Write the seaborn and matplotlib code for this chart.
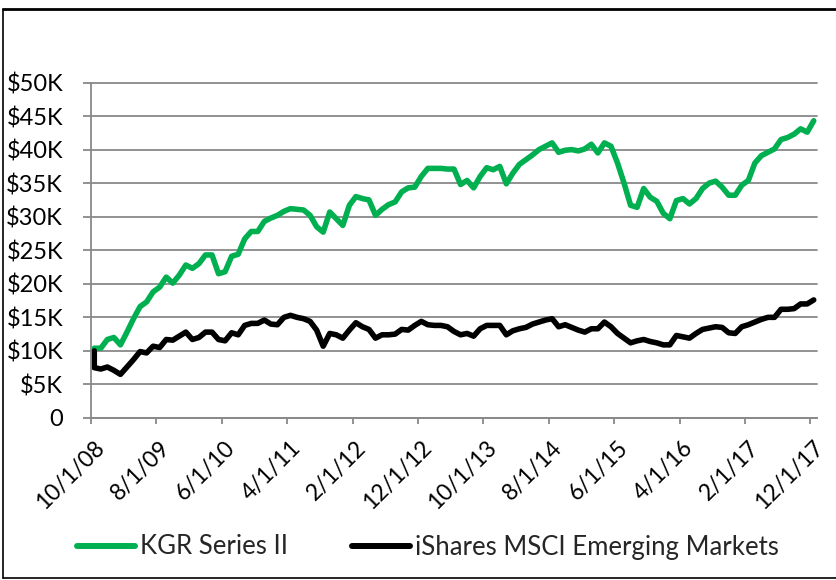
import numpy as np
import pandas as pd
import matplotlib
matplotlib.use("Agg")
import matplotlib.pyplot as plt
import matplotlib.transforms as mtransforms
from matplotlib.lines import Line2D
import seaborn as sns

# ---------------- data (values in $K) ----------------
start_value = 10.0  # both portfolios start at $10K on 10/1/08
months = pd.period_range("2008-10", "2017-12", freq="M")

kgr = [10.4, 10.4, 11.7, 12.0, 10.9, 12.8, 14.8, 16.6, 17.3, 18.8,
       19.5, 21.0, 20.1, 21.3, 22.8, 22.3, 23.0, 24.3, 24.3, 21.5,
       21.8, 24.1, 24.4, 26.7, 27.8, 27.8, 29.3, 29.8, 30.2, 30.8,
       31.2, 31.1, 31.0, 30.2, 28.5, 27.7, 30.7, 29.7, 28.7, 31.7,
       33.0, 32.7, 32.5, 30.2, 31.1, 31.8, 32.2, 33.7, 34.3, 34.4,
       36.0, 37.2, 37.2, 37.2, 37.1, 37.1, 34.8, 35.4, 34.3, 36.0,
       37.3, 37.0, 37.5, 34.9, 36.5, 37.8, 38.5, 39.2, 40.0, 40.5,
       41.0, 39.6, 39.9, 40.0, 39.8, 40.1, 40.8, 39.5, 41.0, 40.5,
       38.0, 35.0, 31.7, 31.4, 34.2, 32.9, 32.3, 30.5, 29.7, 32.4,
       32.7, 31.9, 32.7, 34.2, 35.0, 35.3, 34.4, 33.2, 33.2, 34.7,
       35.4, 38.0, 39.1, 39.6, 40.1, 41.5, 41.8, 42.3, 43.1, 42.6, 44.3]

ishares = [7.5, 7.3, 7.6, 7.1, 6.5, 7.6, 8.7, 9.9, 9.7, 10.7,
           10.5, 11.7, 11.6, 12.2, 12.8, 11.7, 12.0, 12.8, 12.8, 11.7,
           11.5, 12.7, 12.4, 13.8, 14.1, 14.1, 14.6, 14.0, 13.9, 15.0,
           15.3, 15.0, 14.8, 14.4, 13.1, 10.7, 12.6, 12.4, 11.9, 13.1,
           14.2, 13.6, 13.2, 11.9, 12.4, 12.4, 12.5, 13.2, 13.1, 13.8,
           14.4, 13.9, 13.8, 13.8, 13.6, 12.9, 12.4, 12.6, 12.2, 13.3,
           13.8, 13.8, 13.8, 12.4, 13.0, 13.3, 13.5, 14.0, 14.3, 14.6,
           14.8, 13.6, 13.9, 13.5, 13.1, 12.8, 13.3, 13.3, 14.3, 13.6,
           12.6, 11.9, 11.2, 11.5, 11.7, 11.4, 11.2, 10.9, 10.9, 12.3,
           12.1, 11.9, 12.6, 13.2, 13.4, 13.6, 13.5, 12.7, 12.6, 13.6,
           13.9, 14.3, 14.7, 15.0, 15.0, 16.2, 16.2, 16.3, 17.0, 17.0, 17.6]

series_names = ["KGR Series II", "iShares MSCI Emerging Markets"]
series_colors = ["#00B050", "#000000"]

tick_labels = ["10/1/08", "8/1/09", "6/1/10", "4/1/11", "2/1/12", "12/1/12",
               "10/1/13", "8/1/14", "6/1/15", "4/1/16", "2/1/17", "12/1/17"]
tick_step_months = 10
y_ticks = [0, 5, 10, 15, 20, 25, 30, 35, 40, 45, 50]
y_labels = ["0", "$5K", "$10K", "$15K", "$20K", "$25K",
            "$30K", "$35K", "$40K", "$45K", "$50K"]

# ---------------- build long table ----------------
slot = np.arange(len(months)) + 0.5   # centre of each monthly slot
rows = []
for name, vals in zip(series_names, [kgr, ishares]):
    xs = np.concatenate([[slot[0]], slot])
    ys = [start_value] + list(vals)
    for k, (xv, yv) in enumerate(zip(xs, ys)):
        rows.append({"x": xv, "value": yv, "series": name, "order": k})
df = pd.DataFrame(rows)

# ---------------- styling ----------------
sns.set_theme(style="white")
plt.rcParams["font.family"] = ["Lato", "DejaVu Sans"]

W, H = 836, 580
fig = plt.figure(figsize=(W / 100, H / 100), dpi=100)
ax = fig.add_axes([91 / W, 1 - 418 / H, (817 - 91) / W, (418 - 82.5) / H])

grid_col = "#898989"
sns.lineplot(data=df, x="x", y="value", hue="series",
             palette=dict(zip(series_names, series_colors)),
             hue_order=series_names, estimator=None, sort=False,
             linewidth=4.0, legend=False, ax=ax)
for ln in ax.lines:
    ln.set_solid_joinstyle("round")
    ln.set_solid_capstyle("round")
    ln.set_clip_on(False)

ax.set_xlim(0, len(months))
ax.set_ylim(0, 50)
ax.set_xticks(np.arange(len(tick_labels)) * tick_step_months)
ax.set_xticklabels(tick_labels, rotation=45, ha="right", va="top",
                   rotation_mode="anchor", fontsize=16.5, color="black")
ax.set_yticks(y_ticks)
ax.set_yticklabels(y_labels, fontsize=17, color="black")
ax.set_xlabel("")
ax.set_ylabel("")

ax.yaxis.grid(True, color=grid_col, linewidth=1.3)
ax.xaxis.grid(False)
for gl in ax.yaxis.get_gridlines():
    gl.set_clip_on(False)
ax.set_axisbelow(True)

for side in ["top", "right"]:
    ax.spines[side].set_visible(False)
for side in ["left", "bottom"]:
    ax.spines[side].set_color(grid_col)
    ax.spines[side].set_linewidth(1.3)

ax.tick_params(axis="y", which="major", length=6, width=1.3, color=grid_col,
               pad=14, left=True)
ax.tick_params(axis="x", which="major", length=4.5, width=1.3, color=grid_col,
               pad=9, bottom=True)

offset = mtransforms.ScaledTranslation(2 / 72, 0, fig.dpi_scale_trans)
for lbl in ax.get_xticklabels():
    lbl.set_transform(lbl.get_transform() + offset)

# legend
handles = [Line2D([], [], color=c, linewidth=4.3, solid_capstyle="round")
           for c in series_colors]
fig.legend(handles, series_names, loc="center",
           bbox_to_anchor=(428 / W, 1 - 547 / H), ncol=2, frameon=False,
           fontsize=18.5, handlelength=2.25, handletextpad=0.2,
           columnspacing=2.5, borderaxespad=0, borderpad=0)

# outer chart frame
fig.add_artist(Line2D([3 / W, 3 / W], [1 - 9 / H, 1 - 578 / H],
                      transform=fig.transFigure, color="black", linewidth=1.2))
fig.add_artist(Line2D([3 / W, 1.0], [1 - 9 / H, 1 - 9 / H],
                      transform=fig.transFigure, color="black", linewidth=2.0))
fig.add_artist(Line2D([3 / W, 1.0], [1 - 578 / H, 1 - 578 / H],
                      transform=fig.transFigure, color="black", linewidth=1.2))

fig.savefig("out.png", dpi=100)
